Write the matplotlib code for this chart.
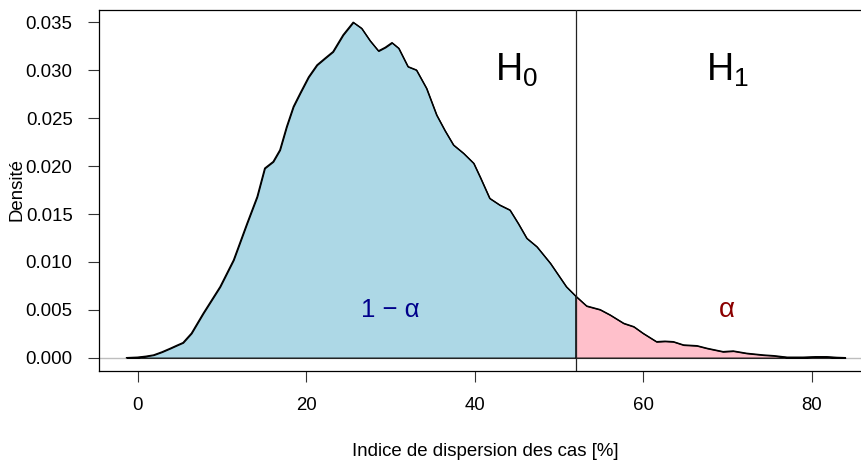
import matplotlib
matplotlib.use('Agg')
import matplotlib.pyplot as plt
from matplotlib.ticker import FormatStrFormatter
import numpy as np

plt.rcParams['font.family'] = ['Liberation Sans', 'DejaVu Sans']
plt.rcParams['mathtext.fontset'] = 'custom'
plt.rcParams['mathtext.rm'] = 'Liberation Sans'
plt.rcParams['mathtext.it'] = 'Liberation Sans:italic'

# density curve (x in %, density)
dens_x = [-1.3, 0.0, 1.0, 1.9, 2.9, 3.9, 4.7, 5.4, 6.4, 7.8, 9.8, 11.4, 13.0,
          14.2, 15.1, 16.1, 16.9, 17.7, 18.5, 19.3, 20.3, 21.3, 22.3, 23.2,
          24.4, 25.6, 26.6, 27.6, 28.6, 29.4, 30.2, 31.0, 32.1, 33.1, 34.3,
          35.5, 36.5, 37.5, 38.7, 39.9, 40.7, 41.8, 43.0, 44.2, 45.2, 46.2,
          47.4, 49.0, 50.9, 52.0, 53.3, 54.9, 56.1, 57.7, 58.9, 60.0, 61.6,
          62.6, 63.6, 64.8, 66.4, 67.6, 69.5, 70.7, 72.3, 74.3, 75.5, 77.1,
          79.0, 80.5, 81.8, 83.0, 84.0]
dens_y = [0.0, 0.00005, 0.00015, 0.00028, 0.0006, 0.00098, 0.0013, 0.00157,
          0.00255, 0.00463, 0.00741, 0.0102, 0.01403, 0.01681, 0.01978,
          0.02047, 0.02169, 0.02412, 0.02621, 0.02761, 0.0293, 0.03056,
          0.0313, 0.03195, 0.0337, 0.03502, 0.03439, 0.0331, 0.03203,
          0.0324, 0.03289, 0.03231, 0.03039, 0.03004, 0.02813, 0.02534,
          0.0237, 0.02221, 0.02134, 0.0203, 0.0188, 0.01664, 0.01594,
          0.01542, 0.0140, 0.01247, 0.01159, 0.00986, 0.00741, 0.00644,
          0.0054, 0.00502, 0.00446, 0.00359, 0.00324, 0.00255, 0.00167,
          0.00172, 0.00167, 0.00133, 0.00125, 0.00098, 0.00063, 0.0007,
          0.00046, 0.00028, 0.00021, 0.00005, 0.00005, 0.0001, 0.0001,
          0.00003, 0.0]

threshold = 52.0
x_ticks = [0, 20, 40, 60, 80]
y_ticks = [0.000, 0.005, 0.010, 0.015, 0.020, 0.025, 0.030, 0.035]

x = np.array(dens_x)
y = np.array(dens_y)

fig = plt.figure(figsize=(8.62, 4.65), dpi=100)
ax = fig.add_axes([99 / 862, 1 - 371 / 465, 772.6 / 862, 360.7 / 465])

ax.axhline(0, color='#BEBEBE', lw=1.0, zorder=1)
ax.fill_between(x, y, where=x <= threshold, color='#ADD8E6',
                edgecolor='black', lw=0.9, zorder=2)
ax.fill_between(x, y, where=x >= threshold, color='#FFC0CB',
                edgecolor='black', lw=0.9, zorder=2)
ax.plot(x, y, color='black', lw=1.0, zorder=3,
        solid_joinstyle='round')
ax.axvline(threshold, color='#222222', lw=0.9, zorder=3)

ax.text(45, 0.030, r'$\mathrm{H}_{\mathrm{0}}$', fontsize=27,
        ha='center', va='center')
ax.text(70, 0.030, r'$\mathrm{H}_{\mathrm{1}}$', fontsize=27,
        ha='center', va='center')
ax.text(30, 0.005, '1 \u2212 \u03b1', fontsize=18.5, color='#00008B',
        ha='center', va='center')
ax.text(70, 0.005, '\u03b1', fontsize=20, color='#8B0000',
        ha='center', va='center')

ax.set_xlim(-4.57, 87.13)
ax.set_ylim(-0.00139, 0.03627)
ax.set_xticks(x_ticks)
ax.set_yticks(y_ticks)
ax.yaxis.set_major_formatter(FormatStrFormatter('%.3f'))
ax.tick_params(length=8, width=0.8, pad=11, labelsize=13.4, color='#333333')
for s in ax.spines.values():
    s.set_linewidth(0.9)

fig.text(485.3 / 862, 1 - 451.5 / 465, 'Indice de dispersion des cas [%]',
         fontsize=13.4, ha='center', va='center')
fig.text(17.5 / 862, 1 - 189 / 465, 'Densité', fontsize=13.4, rotation=90,
         ha='center', va='center')

fig.savefig('out.png', dpi=100)
